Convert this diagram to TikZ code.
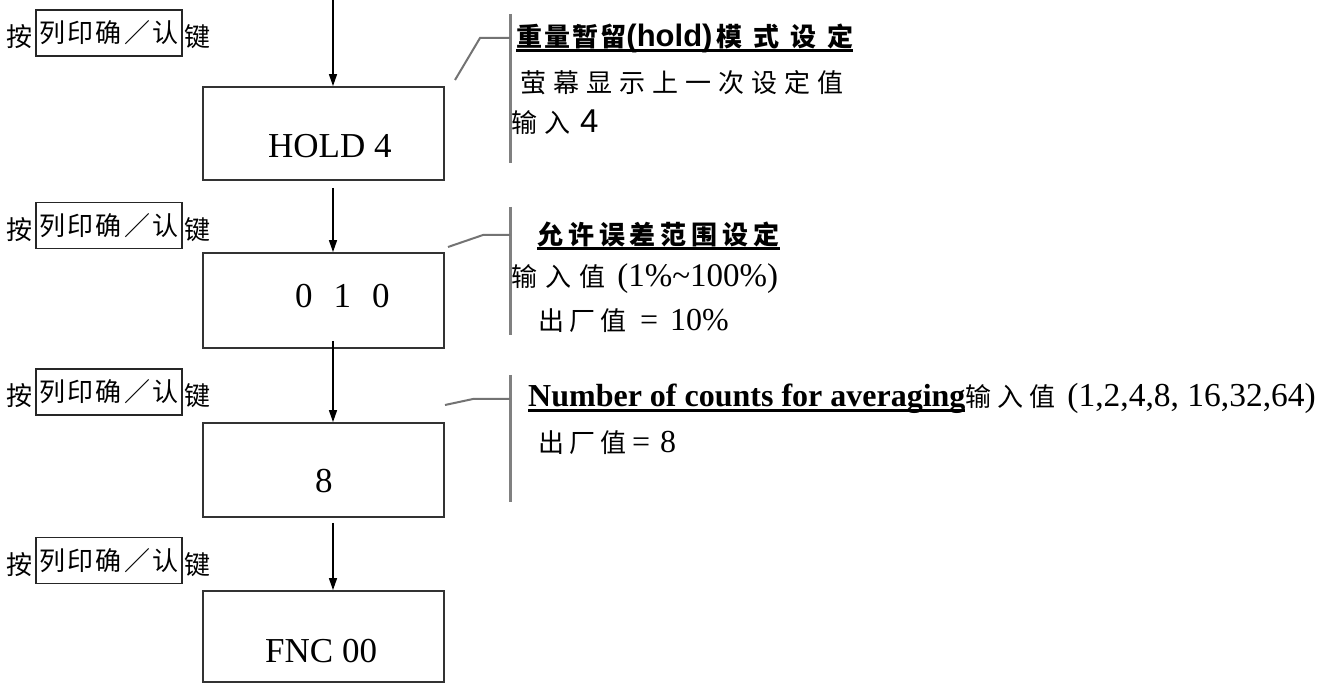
\documentclass[tikz,border=0pt]{standalone}
\usepackage{fontspec}
\setmainfont{Liberation Serif}
\newfontfamily\cjk{Noto Sans CJK SC}
\newfontfamily\arial{Liberation Sans}
\usetikzlibrary{arrows.meta}
\newcommand\cj[2]{{\cjk\fontsize{26}{30}\selectfont\addfontfeature{LetterSpace=#1}#2}}
\newcommand\cjb[2]{{\cjk\bfseries\fontsize{26}{30}\selectfont\addfontfeature{LetterSpace=#1}#2}}
\newsavebox\ulboxx
\newcommand\ulx[1]{\sbox\ulboxx{#1}\rlap{\rule[-5.5pt]{\wd\ulboxx}{3pt}}\usebox\ulboxx}
\begin{document}
\begin{tikzpicture}[x=1pt,y=-1pt,
  every node/.style={font=\fontsize{32}{38}\selectfont},
  box/.style={draw=black!80, line width=1.8pt, inner sep=0, minimum width=241pt},
  arr/.style={line width=1.5pt, -{Triangle[width=8pt,length=12pt]}},
  keybox/.style={draw=black!85, line width=1.4pt, minimum width=146pt, minimum height=46pt, inner sep=0},
  bar/.style={draw=black!50, line width=3pt},
  lead/.style={draw=black!55, line width=2pt},
  txt/.style={inner sep=0, anchor=base west},
  big/.style={font=\fontsize{35}{40}\selectfont}]
\useasboundingbox (0,0) rectangle (1326,684);

% key labels
\foreach \i/\y in {1/33,2/225.5,3/392,4/560.5}{
  \node[keybox] (k\i) at (109,\y) {\raisebox{-4pt}{\cj{9}{列印确／认}}};
  \node[inner sep=0, anchor=east] (p\i) at ([xshift=-3pt,yshift=-4pt]k\i.west) {\cj{0}{按}};
  \node[inner sep=0, anchor=west] (j\i) at ([xshift=2pt,yshift=-4pt]k\i.east) {\cj{0}{键}};
}

% boxes
\node[box, minimum height=93pt] (b1) at (323.5,133.5) {};
\node[box, minimum height=95pt] (b2) at (323.5,300.5) {};
\node[box, minimum height=94pt] (b3) at (323.5,470) {};
\node[box, minimum height=91pt] (b4) at (323.5,636.5) {};
\node[txt, big] (v1) at (268,158) {HOLD 4};
\node[txt, big] (v2) at (295,308) {0\hspace{21pt}1\hspace{21pt}0};
\node[txt, big] (v3) at (315,493) {8};
\node[txt, big] (v4) at (265,662) {FNC 00};

% arrows
\coordinate (s0) at (333,0);
\draw[arr] (s0) -- (s0 |- b1.north);
\draw[arr] ([xshift=9.5pt,yshift=-7pt]b1.south) -- ([xshift=9.5pt]b2.north);
\draw[arr] ([xshift=9.5pt,yshift=8pt]b2.south) -- ([xshift=9.5pt]b3.north);
\draw[arr] ([xshift=9.5pt,yshift=-5pt]b3.south) -- ([xshift=9.5pt]b4.north);

% callout 1
\coordinate (bar1t) at (510,14); \coordinate (bar1b) at (510,163);
\coordinate (l1) at (455,80); \coordinate (m1) at (480,38);
\draw[bar] (bar1t) -- (bar1b);
\draw[lead] (l1) -- (m1) -- (m1 -| bar1t);
\node[txt] (h1) at (516,47) {\ulx{\cjb{8}{重量暂留}{\arial\bfseries\fontsize{31}{36}\selectfont(hold)}\hspace{4pt}\cjb{42}{模式设定}}};
\node[txt] (h1b) at (520,93) {\cj{27}{萤幕显示上一次设定值}};
\node[txt] (h1c) at (511,133) {\cj{27}{输入}\hspace{10pt}{\arial\fontsize{33}{38}\selectfont 4}};

% callout 2
\coordinate (bar2t) at (510,207); \coordinate (bar2b) at (510,335);
\coordinate (l2) at (448,247); \coordinate (m2) at (483,235);
\draw[bar] (bar2t) -- (bar2b);
\draw[lead] (l2) -- (m2) -- (m2 -| bar2t);
\node[txt] (h2) at (537,245) {\ulx{\cjb{19}{允许误差范围设定}}};
\node[txt] (h2b) at (511,287) {\cj{31}{输入值}\hspace{12pt}{\fontsize{33}{38}\selectfont(1\%\textasciitilde 100\%)}};
\node[txt] (h2c) at (538,331) {\cj{19}{出厂值}\hspace{14pt}=\hspace{12pt}10\%};

% callout 3
\coordinate (bar3t) at (510,375); \coordinate (bar3b) at (510,502);
\coordinate (l3) at (445,405); \coordinate (m3) at (473,399);
\draw[bar] (bar3t) -- (bar3b);
\draw[lead] (l3) -- (m3) -- (m3 -| bar3t);
\node[txt] (h3) at (528,407) {\ulx{\bfseries Number of counts for averaging}\cj{23}{输入值}\hspace{12pt}{\fontsize{33.5}{38}\selectfont(1,2,4,8, 16,32,64)}};
\node[txt] (h3b) at (538,453) {\cj{19}{出厂值}\hspace{6pt}=\hspace{10pt}8};
\end{tikzpicture}
\end{document}
